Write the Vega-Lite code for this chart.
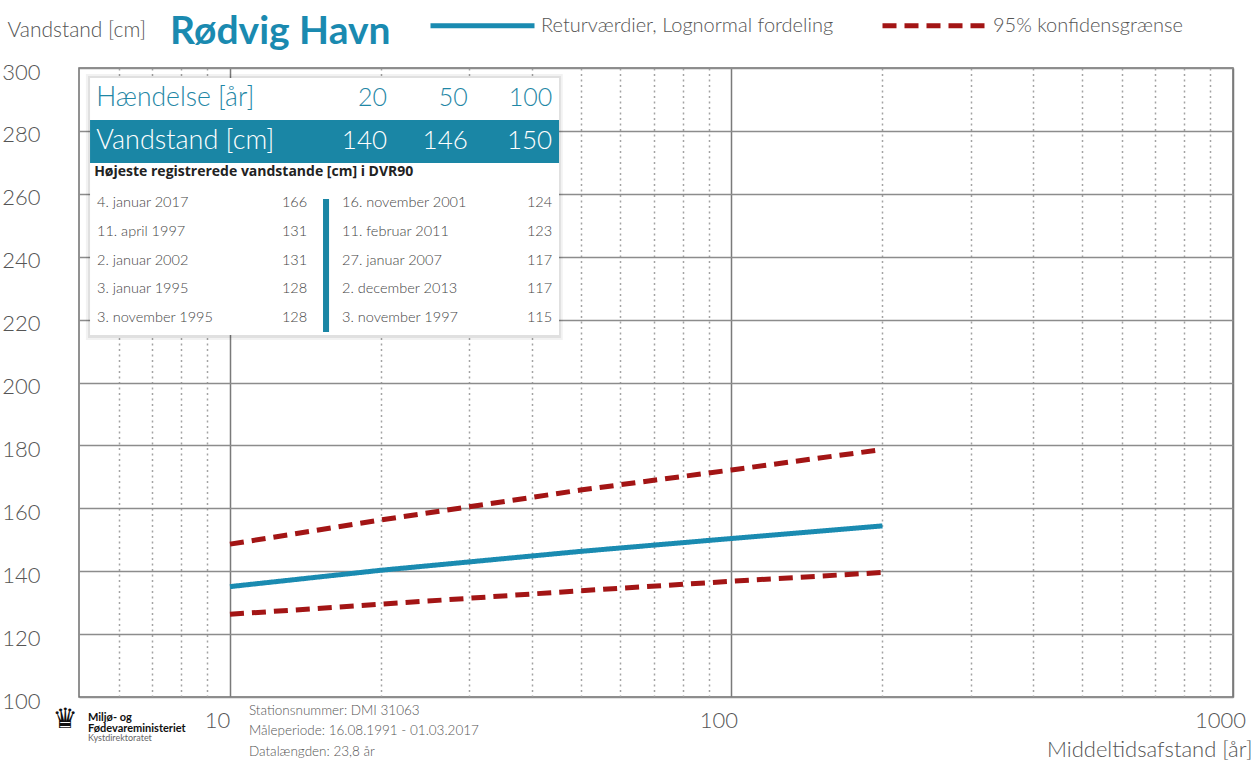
{
  "$schema": "https://vega.github.io/schema/vega-lite/v6.json",
  "width": 1154,
  "height": 629,
  "autosize": {"type": "none"},
  "padding": {"left": 79, "top": 68, "right": 22, "bottom": 63},
  "background": "#ffffff",
  "config": {
    "view": {"stroke": "#6e6e6e", "strokeWidth": 1.5},
    "text": {"font": "Lato"}
  },
  "datasets": {
    "kurver": [
      {"T": 10, "vandstand": 135.1, "serie": "Returværdier, Lognormal fordeling", "kurve": "middel"},
      {"T": 20, "vandstand": 140.3, "serie": "Returværdier, Lognormal fordeling", "kurve": "middel"},
      {"T": 50, "vandstand": 146.3, "serie": "Returværdier, Lognormal fordeling", "kurve": "middel"},
      {"T": 100, "vandstand": 150.4, "serie": "Returværdier, Lognormal fordeling", "kurve": "middel"},
      {"T": 200, "vandstand": 154.4, "serie": "Returværdier, Lognormal fordeling", "kurve": "middel"},
      {"T": 10, "vandstand": 148.6, "serie": "95% konfidensgrænse", "kurve": "øvre"},
      {"T": 20, "vandstand": 156.3, "serie": "95% konfidensgrænse", "kurve": "øvre"},
      {"T": 50, "vandstand": 165.8, "serie": "95% konfidensgrænse", "kurve": "øvre"},
      {"T": 100, "vandstand": 172.2, "serie": "95% konfidensgrænse", "kurve": "øvre"},
      {"T": 200, "vandstand": 178.7, "serie": "95% konfidensgrænse", "kurve": "øvre"},
      {"T": 10, "vandstand": 126.3, "serie": "95% konfidensgrænse", "kurve": "nedre"},
      {"T": 20, "vandstand": 129.5, "serie": "95% konfidensgrænse", "kurve": "nedre"},
      {"T": 50, "vandstand": 133.8, "serie": "95% konfidensgrænse", "kurve": "nedre"},
      {"T": 100, "vandstand": 136.8, "serie": "95% konfidensgrænse", "kurve": "nedre"},
      {"T": 200, "vandstand": 139.6, "serie": "95% konfidensgrænse", "kurve": "nedre"}
    ],
    "haendelser": [
      {"haendelse": 20, "vandstand": 140},
      {"haendelse": 50, "vandstand": 146},
      {"haendelse": 100, "vandstand": 150}
    ],
    "rekorder": [
      {"rang": 1, "kolonne": "venstre", "dato": "4. januar 2017", "vandstand": 166},
      {"rang": 2, "kolonne": "venstre", "dato": "11. april 1997", "vandstand": 131},
      {"rang": 3, "kolonne": "venstre", "dato": "2. januar 2002", "vandstand": 131},
      {"rang": 4, "kolonne": "venstre", "dato": "3. januar 1995", "vandstand": 128},
      {"rang": 5, "kolonne": "venstre", "dato": "3. november 1995", "vandstand": 128},
      {"rang": 1, "kolonne": "højre", "dato": "16. november 2001", "vandstand": 124},
      {"rang": 2, "kolonne": "højre", "dato": "11. februar 2011", "vandstand": 123},
      {"rang": 3, "kolonne": "højre", "dato": "27. januar 2007", "vandstand": 117},
      {"rang": 4, "kolonne": "højre", "dato": "2. december 2013", "vandstand": 117},
      {"rang": 5, "kolonne": "højre", "dato": "3. november 1997", "vandstand": 115}
    ]
  },
  "resolve": {"scale": {"y": "independent"}},
  "layer": [
    {
      "layer": [
        {
          "data": {"name": "kurver"},
          "mark": {"type": "line", "strokeWidth": 5, "strokeCap": "butt"},
          "encoding": {
            "x": {
              "field": "T", "type": "quantitative",
              "scale": {"type": "log", "domain": [5, 1000], "nice": false},
              "axis": {
                "values": [6, 7, 8, 9, 10, 20, 30, 40, 50, 60, 70, 80, 90, 100, 200, 300, 400, 500, 600, 700, 800, 900, 1000],
                "labelExpr": "(datum.value == 10 || datum.value == 100 || datum.value == 1000) ? format(datum.value, 'd') : ''",
                "grid": true,
                "gridColor": {"condition": {"test": "datum.value == 10 || datum.value == 100 || datum.value == 1000", "value": "#7a7a7a"}, "value": "#a3a3a3"},
                "gridDash": {"condition": {"test": "datum.value == 10 || datum.value == 100 || datum.value == 1000", "value": []}, "value": [2, 3.5]},
                "gridWidth": 1.5,
                "domain": false,
                "ticks": false,
                "labelFont": "Lato", "labelFontWeight": 300, "labelFontSize": 22, "labelColor": "#555555",
                "labelPadding": 13, "labelOffset": -13, "labelBound": false, "labelFlush": false, "labelOverlap": false,
                "title": "Middeltidsafstand [år]",
                "titleFont": "Lato", "titleFontWeight": 300, "titleFontSize": 22, "titleColor": "#555555",
                "titleAnchor": "end", "titleAlign": "right", "titleBaseline": "alphabetic", "titleX": 1173, "titleY": 59
              }
            },
            "y": {
              "field": "vandstand", "type": "quantitative",
              "scale": {"domain": [100, 300], "nice": false, "zero": false},
              "axis": {
                "values": [100, 120, 140, 160, 180, 200, 220, 240, 260, 280, 300],
                "grid": true, "gridColor": "#8c8c8c", "gridWidth": 1.5,
                "domain": false, "ticks": false,
                "labelFont": "Lato", "labelFontWeight": 300, "labelFontSize": 22, "labelColor": "#555555",
                "labelPadding": 39, "labelOffset": 4,
                "title": null
              }
            },
            "color": {
              "field": "serie", "type": "nominal",
              "scale": {"domain": ["Returværdier, Lognormal fordeling", "95% konfidensgrænse"], "range": ["#1a8bb1", "#a31515"]},
              "legend": {
                "orient": "none", "legendX": 349, "legendY": -97, "direction": "horizontal", "columns": 2,
                "title": null, "symbolType": "stroke", "symbolSize": 10816, "symbolStrokeWidth": 5,
                "labelFont": "Lato", "labelFontWeight": 300, "labelFontSize": 20, "labelColor": "#555555", "labelLimit": 600,
                "labelOffset": 4, "columnPadding": 38, "padding": 0
              }
            },
            "strokeDash": {
              "field": "serie", "type": "nominal",
              "scale": {"domain": ["Returværdier, Lognormal fordeling", "95% konfidensgrænse"], "range": [[1, 0], [14, 8]]},
              "legend": {
                "orient": "none", "legendX": 349, "legendY": -97, "direction": "horizontal", "columns": 2,
                "title": null, "symbolType": "stroke", "symbolSize": 10816, "symbolStrokeWidth": 5,
                "labelFont": "Lato", "labelFontWeight": 300, "labelFontSize": 20, "labelColor": "#555555", "labelLimit": 600,
                "labelOffset": 4, "columnPadding": 38, "padding": 0
              }
            },
            "detail": {"field": "kurve", "type": "nominal"}
          }
        },
        {
          "data": {"values": [{}]},
          "mark": {"type": "text", "text": "Vandstand [cm]", "align": "left", "baseline": "alphabetic", "font": "Lato", "fontWeight": 300, "fontSize": 21, "color": "#555555"},
          "encoding": {"x": {"datum": 3.6, "type": "quantitative"}, "y": {"datum": 309.9, "type": "quantitative"}}
        },
        {
          "data": {"values": [{}]},
          "mark": {"type": "text", "text": "Rødvig Havn", "align": "left", "baseline": "alphabetic", "font": "Lato", "fontWeight": "bold", "fontSize": 39, "color": "#1a8ab0"},
          "encoding": {"x": {"datum": 7.59, "type": "quantitative"}, "y": {"datum": 307.6, "type": "quantitative"}}
        },
        {
          "data": {"values": [{}]},
          "mark": {"type": "text", "text": "♛", "align": "center", "baseline": "middle", "font": "DejaVu Sans", "fontSize": 28, "color": "#111111"},
          "encoding": {"x": {"datum": 4.69, "type": "quantitative"}, "y": {"datum": 92.7, "type": "quantitative"}}
        },
        {
          "data": {"values": [{}]},
          "mark": {"type": "text", "text": ["Miljø- og", "Fødevareministeriet"], "align": "left", "baseline": "top", "lineHeight": 10.6, "font": "Lato", "fontWeight": "bold", "fontSize": 11, "color": "#111111"},
          "encoding": {"x": {"datum": 5.21, "type": "quantitative"}, "y": {"datum": 95.2, "type": "quantitative"}}
        },
        {
          "data": {"values": [{}]},
          "mark": {"type": "text", "text": "Kystdirektoratet", "align": "left", "baseline": "middle", "font": "Lato", "fontSize": 9, "color": "#666666"},
          "encoding": {"x": {"datum": 5.21, "type": "quantitative"}, "y": {"datum": 86.96, "type": "quantitative"}}
        },
        {
          "data": {"values": [{}]},
          "mark": {"type": "text", "text": ["Stationsnummer: DMI 31063", "Måleperiode: 16.08.1991 - 01.03.2017", "Datalængden: 23,8 år"], "align": "left", "baseline": "top", "lineHeight": 20.5, "font": "Lato", "fontWeight": 300, "fontSize": 13.5, "color": "#555555"},
          "encoding": {"x": {"datum": 10.91, "type": "quantitative"}, "y": {"datum": 97.8, "type": "quantitative"}}
        }
      ]
    },
    {
      "layer": [
        {
          "data": {"values": [{}]},
          "mark": {"type": "rect", "color": "#000000", "opacity": 0.05},
          "encoding": {
            "x": {"datum": 5.16, "type": "quantitative"}, "x2": {"datum": 46.1},
            "y": {"datum": -3.487, "type": "quantitative", "scale": {"domain": [-3.6957, 18.1826], "reverse": true, "nice": false, "zero": false}, "axis": null},
            "y2": {"datum": 5.765}
          }
        },
        {
          "data": {"values": [{}]},
          "mark": {"type": "rect", "color": "#000000", "opacity": 0.07},
          "encoding": {
            "x": {"datum": 5.21, "type": "quantitative"}, "x2": {"datum": 45.7},
            "y": {"datum": -3.417, "type": "quantitative", "scale": {"domain": [-3.6957, 18.1826], "reverse": true, "nice": false, "zero": false}, "axis": null},
            "y2": {"datum": 5.696}
          }
        },
        {
          "data": {"values": [{}]},
          "mark": {"type": "rect", "color": "#ffffff", "opacity": 1},
          "encoding": {
            "x": {"datum": 5.26, "type": "quantitative"}, "x2": {"datum": 45.3},
            "y": {"datum": -3.348, "type": "quantitative", "scale": {"domain": [-3.6957, 18.1826], "reverse": true, "nice": false, "zero": false}, "axis": null},
            "y2": {"datum": 5.591}
          }
        },
        {
          "data": {"values": [{}]},
          "mark": {"type": "rect", "color": "#1a86a5"},
          "encoding": {
            "x": {"datum": 5.26, "type": "quantitative"}, "x2": {"datum": 45.3},
            "y": {"datum": -1.887, "type": "quantitative", "scale": {"domain": [-3.6957, 18.1826], "reverse": true, "nice": false, "zero": false}, "axis": null},
            "y2": {"datum": -0.391}
          }
        },
        {
          "data": {"values": [{}]},
          "mark": {"type": "rect", "color": "#1a86a5"},
          "encoding": {
            "x": {"datum": 15.33, "type": "quantitative"}, "x2": {"datum": 15.76},
            "y": {"datum": 0.861, "type": "quantitative", "scale": {"domain": [-3.6957, 18.1826], "reverse": true, "nice": false, "zero": false}, "axis": null},
            "y2": {"datum": 5.487}
          }
        },
        {
          "data": {"values": [{}]},
          "mark": {"type": "text", "text": "Hændelse [år]", "align": "left", "baseline": "middle", "font": "Lato", "fontWeight": 300, "fontSize": 26.5, "color": "#1f87a6"},
          "encoding": {
            "x": {"datum": 5.41, "type": "quantitative"},
            "y": {"datum": -2.65, "type": "quantitative", "scale": {"domain": [-3.6957, 18.1826], "reverse": true, "nice": false, "zero": false}, "axis": null}
          }
        },
        {
          "data": {"values": [{}]},
          "mark": {"type": "text", "text": "Vandstand [cm]", "align": "left", "baseline": "middle", "font": "Lato", "fontWeight": 300, "fontSize": 27, "color": "#ffffff"},
          "encoding": {
            "x": {"datum": 5.41, "type": "quantitative"},
            "y": {"datum": -1.157, "type": "quantitative", "scale": {"domain": [-3.6957, 18.1826], "reverse": true, "nice": false, "zero": false}, "axis": null}
          }
        },
        {
          "data": {"values": [{}]},
          "mark": {"type": "text", "text": "Højeste registrerede vandstande [cm] i DVR90", "align": "left", "baseline": "middle", "font": "Open Sans", "fontWeight": "bold", "fontSize": 14, "color": "#222222"},
          "encoding": {
            "x": {"datum": 5.36, "type": "quantitative"},
            "y": {"datum": -0.078, "type": "quantitative", "scale": {"domain": [-3.6957, 18.1826], "reverse": true, "nice": false, "zero": false}, "axis": null}
          }
        },
        {
          "data": {"name": "haendelser"},
          "transform": [{"filter": "datum.haendelse == 20"}],
          "encoding": {"x": {"datum": 20.57, "type": "quantitative"}},
          "layer": [
            {
              "mark": {"type": "text", "align": "right", "baseline": "middle", "font": "Lato", "fontWeight": 300, "fontSize": 25, "color": "#1f87a6"},
              "encoding": {"text": {"field": "haendelse", "type": "quantitative"}, "y": {"datum": -2.65, "type": "quantitative", "scale": {"domain": [-3.6957, 18.1826], "reverse": true, "nice": false, "zero": false}, "axis": null}}
            },
            {
              "mark": {"type": "text", "align": "right", "baseline": "middle", "font": "Lato", "fontWeight": 300, "fontSize": 26, "color": "#ffffff"},
              "encoding": {"text": {"field": "vandstand", "type": "quantitative"}, "y": {"datum": -1.157, "type": "quantitative", "scale": {"domain": [-3.6957, 18.1826], "reverse": true, "nice": false, "zero": false}, "axis": null}}
            }
          ]
        },
        {
          "data": {"name": "haendelser"},
          "transform": [{"filter": "datum.haendelse == 50"}],
          "encoding": {"x": {"datum": 29.8, "type": "quantitative"}},
          "layer": [
            {
              "mark": {"type": "text", "align": "right", "baseline": "middle", "font": "Lato", "fontWeight": 300, "fontSize": 25, "color": "#1f87a6"},
              "encoding": {"text": {"field": "haendelse", "type": "quantitative"}, "y": {"datum": -2.65, "type": "quantitative", "scale": {"domain": [-3.6957, 18.1826], "reverse": true, "nice": false, "zero": false}, "axis": null}}
            },
            {
              "mark": {"type": "text", "align": "right", "baseline": "middle", "font": "Lato", "fontWeight": 300, "fontSize": 26, "color": "#ffffff"},
              "encoding": {"text": {"field": "vandstand", "type": "quantitative"}, "y": {"datum": -1.157, "type": "quantitative", "scale": {"domain": [-3.6957, 18.1826], "reverse": true, "nice": false, "zero": false}, "axis": null}}
            }
          ]
        },
        {
          "data": {"name": "haendelser"},
          "transform": [{"filter": "datum.haendelse == 100"}],
          "encoding": {"x": {"datum": 43.9, "type": "quantitative"}},
          "layer": [
            {
              "mark": {"type": "text", "align": "right", "baseline": "middle", "font": "Lato", "fontWeight": 300, "fontSize": 25, "color": "#1f87a6"},
              "encoding": {"text": {"field": "haendelse", "type": "quantitative"}, "y": {"datum": -2.65, "type": "quantitative", "scale": {"domain": [-3.6957, 18.1826], "reverse": true, "nice": false, "zero": false}, "axis": null}}
            },
            {
              "mark": {"type": "text", "align": "right", "baseline": "middle", "font": "Lato", "fontWeight": 300, "fontSize": 26, "color": "#ffffff"},
              "encoding": {"text": {"field": "vandstand", "type": "quantitative"}, "y": {"datum": -1.157, "type": "quantitative", "scale": {"domain": [-3.6957, 18.1826], "reverse": true, "nice": false, "zero": false}, "axis": null}}
            }
          ]
        },
        {
          "data": {"name": "rekorder"},
          "transform": [{"filter": "datum.kolonne == 'venstre'"}],
          "layer": [
            {
              "mark": {"type": "text", "align": "left", "baseline": "middle", "font": "Lato", "fontWeight": 300, "fontSize": 14.5, "color": "#454545"},
              "encoding": {
                "x": {"datum": 5.43, "type": "quantitative"},
                "y": {"field": "rang", "type": "quantitative", "scale": {"domain": [-3.6957, 18.1826], "reverse": true, "nice": false, "zero": false}, "axis": null},
                "text": {"field": "dato", "type": "nominal"}
              }
            },
            {
              "mark": {"type": "text", "align": "right", "baseline": "middle", "font": "Lato", "fontWeight": 300, "fontSize": 14.5, "color": "#454545"},
              "encoding": {
                "x": {"datum": 14.25, "type": "quantitative"},
                "y": {"field": "rang", "type": "quantitative", "scale": {"domain": [-3.6957, 18.1826], "reverse": true, "nice": false, "zero": false}, "axis": null},
                "text": {"field": "vandstand", "type": "quantitative"}
              }
            }
          ]
        },
        {
          "data": {"name": "rekorder"},
          "transform": [{"filter": "datum.kolonne == 'højre'"}],
          "layer": [
            {
              "mark": {"type": "text", "align": "left", "baseline": "middle", "font": "Lato", "fontWeight": 300, "fontSize": 14.5, "color": "#454545"},
              "encoding": {
                "x": {"datum": 16.73, "type": "quantitative"},
                "y": {"field": "rang", "type": "quantitative", "scale": {"domain": [-3.6957, 18.1826], "reverse": true, "nice": false, "zero": false}, "axis": null},
                "text": {"field": "dato", "type": "nominal"}
              }
            },
            {
              "mark": {"type": "text", "align": "right", "baseline": "middle", "font": "Lato", "fontWeight": 300, "fontSize": 14.5, "color": "#454545"},
              "encoding": {
                "x": {"datum": 43.9, "type": "quantitative"},
                "y": {"field": "rang", "type": "quantitative", "scale": {"domain": [-3.6957, 18.1826], "reverse": true, "nice": false, "zero": false}, "axis": null},
                "text": {"field": "vandstand", "type": "quantitative"}
              }
            }
          ]
        }
      ]
    }
  ]
}
